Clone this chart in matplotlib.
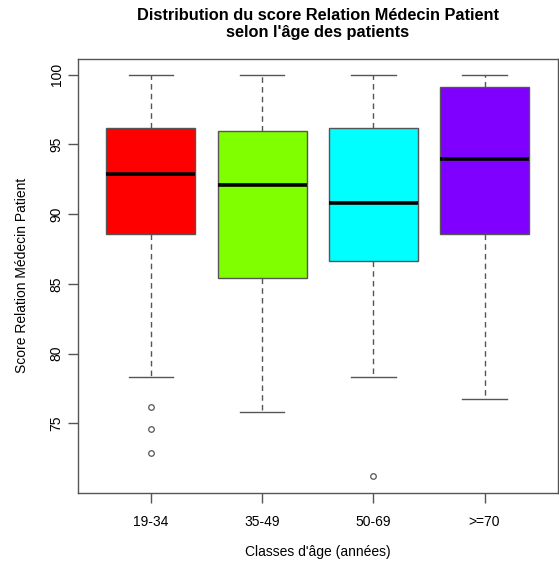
import matplotlib
matplotlib.use("Agg")
import matplotlib.pyplot as plt

plt.rcParams["font.family"] = ["Liberation Sans", "DejaVu Sans"]

# ─────────────────────────────────────────────
# Data
# ─────────────────────────────────────────────
classes = ["19-34", "35-49", "50-69", ">=70"]
q1 = [88.55, 85.4, 86.64, 88.55]
median = [92.86, 92.07, 90.76, 93.93]
q3 = [96.16, 95.95, 96.14, 99.1]
whisker_low = [78.31, 75.81, 78.31, 76.74]
whisker_high = [100.0, 100.0, 100.0, 100.0]
outliers = [[76.21, 74.62, 72.9], [], [71.21], []]
colors = ["#FF0000", "#80FF00", "#00FFFF", "#8000FF"]

W, H, DPI = 559, 563, 100
fig = plt.figure(figsize=(W / DPI, H / DPI), dpi=DPI)
left, right, top, bottom = 77.5, 558, 58.5, 492.5
ax = fig.add_axes([left / W, 1 - bottom / H, (right - left) / W, (bottom - top) / H])

stats = []
for i, lab in enumerate(classes):
    stats.append({
        "label": lab, "q1": q1[i], "med": median[i], "q3": q3[i],
        "whislo": whisker_low[i], "whishi": whisker_high[i], "fliers": outliers[i],
    })

edge = "#555555"
bp = ax.bxp(
    stats, positions=range(1, len(classes) + 1), widths=0.8, patch_artist=True,
    boxprops=dict(edgecolor=edge, linewidth=1.0),
    medianprops=dict(color="black", linewidth=2.6, solid_capstyle="butt"),
    whiskerprops=dict(color=edge, linewidth=1.0, linestyle=(0, (4, 3))),
    capprops=dict(color=edge, linewidth=1.0),
    capwidths=0.4,
    flierprops=dict(marker="o", markersize=4, markerfacecolor="none",
                    markeredgecolor=edge, markeredgewidth=0.9),
)
for patch, c in zip(bp["boxes"], colors):
    patch.set_facecolor(c)

ax.set_xlim(0.34, 4.66)
ax.set_ylim(70.05, 101.15)
ax.set_yticks([75, 80, 85, 90, 95, 100])
ax.set_xticks(range(1, len(classes) + 1))
ax.set_xticklabels(classes)
for lab in ax.get_yticklabels():
    lab.set_rotation(90)
    lab.set_va("center")

for s in ax.spines.values():
    s.set_color(edge)
    s.set_linewidth(1.0)
ax.tick_params(axis="both", length=7, width=1.0, color=edge, labelsize=10, pad=9)
ax.tick_params(axis="y", pad=3)

ax.set_ylabel("Score Relation Médecin Patient", fontsize=10, labelpad=15)
ax.set_xlabel("Classes d'âge (années)", fontsize=10, labelpad=12)
fig.text((left + right) / 2 / W, 1 - 24 / H,
         "Distribution du score Relation Médecin Patient\nselon l'âge des patients",
         ha="center", va="center", fontsize=11.8, fontweight="bold", linespacing=1.1)

fig.savefig("out.png", dpi=DPI)
